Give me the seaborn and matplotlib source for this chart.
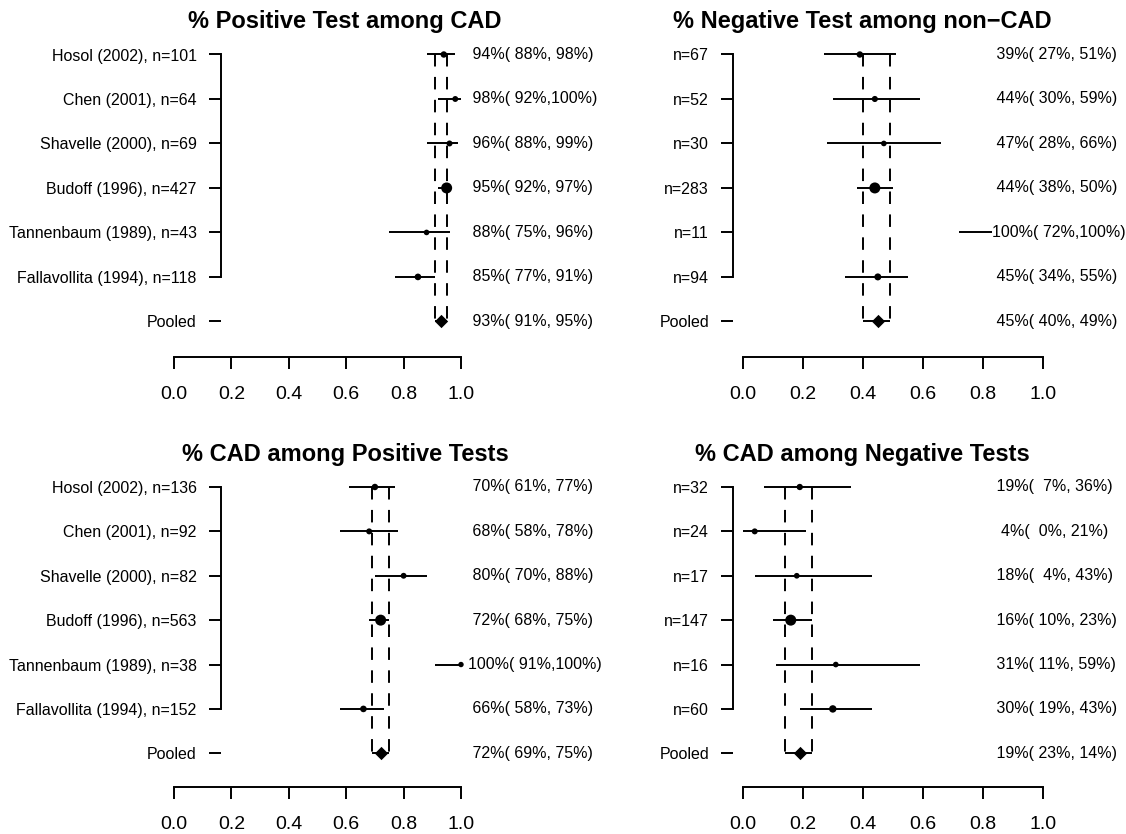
import matplotlib
matplotlib.use("Agg")
import matplotlib.pyplot as plt
import seaborn as sns
import pandas as pd

# ---------------- data (percentages) ----------------
titles = ["% Positive Test among CAD", "% Negative Test among non\u2212CAD",
          "% CAD among Positive Tests", "% CAD among Negative Tests"]

studies = ["Hosol (2002)", "Chen (2001)", "Shavelle (2000)", "Budoff (1996)",
           "Tannenbaum (1989)", "Fallavollita (1994)"]

sens_n = [101, 64, 69, 427, 43, 118]
sens_est = [94, 98, 96, 95, 88, 85]
sens_lo = [88, 92, 88, 92, 75, 77]
sens_hi = [98, 100, 99, 97, 96, 91]
sens_pooled = [93, 91, 95]

spec_n = [67, 52, 30, 283, 11, 94]
spec_est = [39, 44, 47, 44, 100, 45]
spec_lo = [27, 30, 28, 38, 72, 34]
spec_hi = [51, 59, 66, 50, 100, 55]
spec_pooled = [45, 40, 49]

ppv_n = [136, 92, 82, 563, 38, 152]
ppv_est = [70, 68, 80, 72, 100, 66]
ppv_lo = [61, 58, 70, 68, 91, 58]
ppv_hi = [77, 78, 88, 75, 100, 73]
ppv_pooled = [72, 69, 75]

npv_n = [32, 24, 17, 147, 16, 60]
npv_est = [19, 4, 18, 16, 31, 30]
npv_lo = [7, 0, 4, 10, 11, 19]
npv_hi = [36, 21, 43, 23, 59, 43]
npv_pooled = [19, 23, 14]   # printed as shown in the original

x_ticks = [0.0, 0.2, 0.4, 0.6, 0.8, 1.0]
pooled_label = "Pooled"

# ---------------- style ----------------
sns.set_style("white")
plt.rcParams["font.family"] = ["Liberation Sans", "DejaVu Sans"]
plt.rcParams["lines.scale_dashes"] = False

W, H = 1126, 834
fig = plt.figure(figsize=(W / 100, H / 100), dpi=100)
fig.patch.set_facecolor("white")

cols = [dict(x0=174.0, x1=461.0, bracket=220.5, text_x=467.5, title_x=345.0),
        dict(x0=742.7, x1=1043.0, bracket=733.0, text_x=992.0, title_x=862.5)]
rowsp = [dict(row1=54.5, pooled=321.4, axis=356.5, title=28.0),
         dict(row1=487.0, pooled=753.3, axis=787.0, title=460.5)]

panels = [
    (titles[0], sens_n, sens_est, sens_lo, sens_hi, sens_pooled, True, 0, 0),
    (titles[1], spec_n, spec_est, spec_lo, spec_hi, spec_pooled, False, 0, 1),
    (titles[2], ppv_n, ppv_est, ppv_lo, ppv_hi, ppv_pooled, True, 1, 0),
    (titles[3], npv_n, npv_est, npv_lo, npv_hi, npv_pooled, False, 1, 1),
]

LW = 1.4
for title, n, est, lo, hi, pooled, named, r, c in panels:
    cx = cols[c]
    ry = rowsp[r]
    sp = (ry["pooled"] - ry["row1"]) / 6.0
    top_px = ry["row1"] - 0.6 * sp
    axis_val = 7 + (ry["axis"] - ry["pooled"]) / sp
    ax = fig.add_axes([cx["x0"] / W, 1 - ry["axis"] / H,
                       (cx["x1"] - cx["x0"]) / W, (ry["axis"] - top_px) / H])
    ax.set_xlim(0, 1)
    ax.set_ylim(axis_val, 0.4)
    ax.patch.set_alpha(0)

    df = pd.DataFrame({"row": list(range(1, 7)),
                       "est": [v / 100 for v in est],
                       "lo": [v / 100 for v in lo],
                       "hi": [v / 100 for v in hi],
                       "n": n})
    nmax = max(n)
    diam_pt = [(5 + 6 * k / nmax) / 1.389 for k in n]
    sizes = [d * d for d in diam_pt]

    # CI lines
    ax.hlines(df["row"], df["lo"], df["hi"], color="black", lw=LW,
              clip_on=False, zorder=2)
    p_est, p_a, p_b = [v / 100 for v in pooled]
    p_lo, p_hi = min(p_a, p_b), max(p_a, p_b)
    ax.hlines([7], [p_lo], [p_hi], color="black", lw=LW, clip_on=False, zorder=2)
    # dashed pooled CI limits
    ax.vlines([p_lo, p_hi], 1, 7, color="black", lw=LW,
              linestyles=[(0, (9.0, 7.5))], clip_on=False, zorder=2)

    # points
    sns.scatterplot(data=df, x="est", y="row", s=sizes, color="black",
                    linewidth=0, ax=ax, clip_on=False, zorder=3, legend=False)
    sns.scatterplot(x=[p_est], y=[7], marker="D", s=46, color="black",
                    linewidth=0, ax=ax, clip_on=False, zorder=3, legend=False)

    # labels
    if named:
        labels = [f"{s}, n={k}" for s, k in zip(studies, n)]
    else:
        labels = [f"n={k}" for k in n]
    labels.append(pooled_label)

    ax.set_yticks(list(range(1, 8)))
    ax.set_yticklabels(labels)
    ax.set_xticks(x_ticks)
    ax.set_xticklabels([f"{t:.1f}" for t in x_ticks])
    ax.set_xlabel("")
    ax.set_ylabel("")

    for side in ("top", "right"):
        ax.spines[side].set_visible(False)
    ax.spines["left"].set_position(("data", (cx["bracket"] - cx["x0"]) / (cx["x1"] - cx["x0"])))
    ax.spines["left"].set_bounds(1, 6)
    ax.spines["bottom"].set_bounds(0, 1)
    for side in ("left", "bottom"):
        ax.spines[side].set_linewidth(LW)
        ax.spines[side].set_color("black")

    ax.tick_params(axis="y", direction="out", length=8.6, width=LW, pad=8.6,
                   labelsize=11.5, colors="black", left=True)
    ax.tick_params(axis="x", direction="out", length=8.6, width=LW, pad=12.5,
                   labelsize=14, colors="black", bottom=True)

    # right-hand texts
    tx = (cx["text_x"] - cx["x0"]) / (cx["x1"] - cx["x0"])
    all_est = list(est) + [pooled[0]]
    all_a = list(lo) + [pooled[1]]
    all_b = list(hi) + [pooled[2]]
    for i, (e, a, b) in enumerate(zip(all_est, all_a, all_b)):
        ax.text(tx, i + 1, f"{e:3.0f}%({a:3.0f}%,{b:3.0f}%)", ha="left",
                va="center", fontsize=11.5, color="black", clip_on=False,
                zorder=5, bbox=dict(facecolor="white", edgecolor="none", pad=0))

    fig.text(cx["title_x"] / W, 1 - ry["title"] / H, title, ha="center",
             va="baseline", fontsize=17, fontweight="bold", color="black")

fig.savefig("out.png", dpi=100, facecolor="white")
